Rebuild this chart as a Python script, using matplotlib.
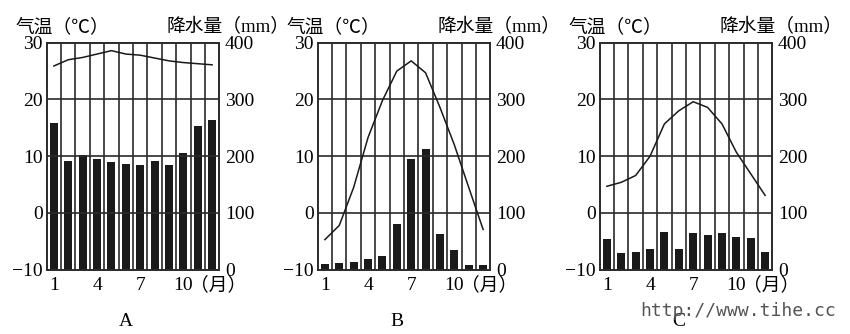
import numpy as np
import matplotlib
matplotlib.use("Agg")
import matplotlib.pyplot as plt

plt.rcParams['font.family'] = ['Liberation Serif', 'Noto Sans CJK SC', 'DejaVu Sans']

months = np.arange(1, 13)

# 气温 (℃)
temp_a = [25.9, 27.0, 27.4, 28.0, 28.6, 28.0, 27.8, 27.3, 26.8, 26.5, 26.3, 26.1]
temp_b = [-4.7, -2.2, 4.5, 13.3, 19.8, 25.0, 26.8, 24.7, 18.6, 12.0, 4.5, -2.9]
temp_c = [4.7, 5.4, 6.6, 10.0, 15.7, 18.0, 19.6, 18.6, 15.7, 10.7, 6.9, 3.1]

# 降水量 (mm)
prec_a = [258, 192, 202, 195, 189, 187, 185, 192, 185, 205, 254, 263]
prec_b = [10, 12, 13.5, 18, 25, 80, 195, 213, 63.5, 34, 9, 7.6]
prec_c = [53.5, 29.4, 31, 37, 67, 36, 64, 62, 64, 58, 56, 32]

panel_names = ['A', 'B', 'C']
temp_ticks = [-10, 0, 10, 20, 30]
temp_labels = ['\u221210', '0', '10', '20', '30']
prec_ticks = [0, 100, 200, 300, 400]
month_ticks = [1, 4, 7, 10]

W, H = 850, 334
fig = plt.figure(figsize=(W / 100, H / 100), dpi=100)

lefts = [46.7, 317.7, 599.7]      # pixel x of each plot frame
ax_w = 172.6
top_px, bot_px = 42.7, 269.7
ink = '#1a1a1a'
grid_c = '#2a2a2a'
num_size = 14
cjk_size = 13.5


def draw_panel(left, temps, precs, name):
    ax = fig.add_axes([left / W, 1 - bot_px / H, ax_w / W, (bot_px - top_px) / H])
    ax2 = ax.twinx()
    ax.set_zorder(ax2.get_zorder() + 1)
    ax.patch.set_visible(False)

    ax2.bar(months, precs, width=0.55, color=ink, zorder=2)
    ax2.set_ylim(0, 400)
    ax2.set_yticks(prec_ticks)
    ax2.tick_params(axis='y', length=0, pad=4, labelsize=num_size)

    ax.plot(months, temps, color=ink, lw=1.1, zorder=3)
    ax.set_xlim(0.5, 12.5)
    ax.set_ylim(-10, 30)
    ax.set_yticks(temp_ticks)
    ax.set_yticklabels(temp_labels)
    ax.set_xticks(month_ticks)
    ax.tick_params(axis='both', length=0, labelsize=num_size)
    ax.tick_params(axis='y', pad=3)
    ax.tick_params(axis='x', pad=5)

    for m in np.arange(1.5, 12.5, 1):
        ax.axvline(m, color=grid_c, lw=1.2, zorder=1)
    for t in [0, 10, 20]:
        ax.axhline(t, color=grid_c, lw=1.2, zorder=1)
    for a in (ax, ax2):
        for s in a.spines.values():
            s.set_color(grid_c)
            s.set_linewidth(1.2)

    right = left + ax_w
    fig.text((left - 31) / W, 1 - 27 / H, '气温（\u2103）', fontsize=cjk_size,
             ha='left', va='center')
    fig.text((right + 70) / W, 1 - 27 / H, '降水量（mm）', fontsize=cjk_size,
             ha='right', va='center')
    x10 = left + 9.5 * ax_w / 12
    fig.text((x10 + 7) / W, 1 - 285 / H, '（月）', fontsize=cjk_size,
             ha='left', va='center')
    fig.text((left + ax_w / 2 - 7) / W, 1 - 321 / H, name, fontsize=num_size,
             ha='center', va='center')


for left, t, p, n in zip(lefts, [temp_a, temp_b, temp_c],
                         [prec_a, prec_b, prec_c], panel_names):
    draw_panel(left, t, p, n)

fig.text(836 / W, 1 - 311 / H, 'http://www.tihe.cc', fontsize=13,
         family='DejaVu Sans Mono', color='#555555', ha='right', va='center')

fig.savefig('out.png', dpi=100)
